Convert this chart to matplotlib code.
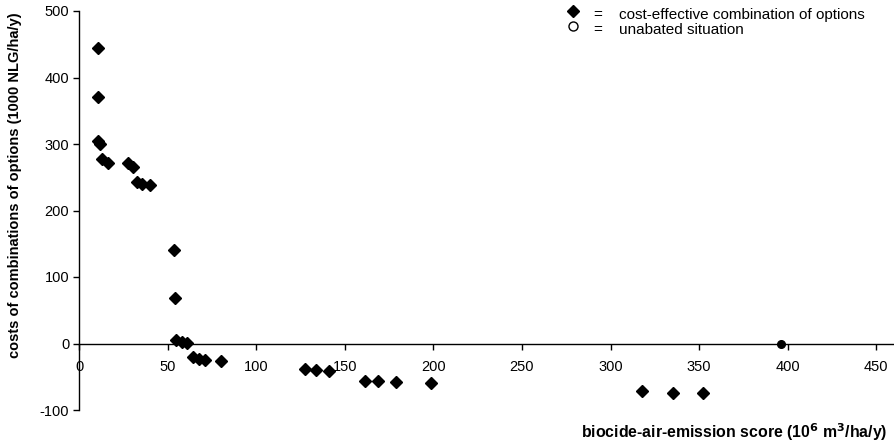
import numpy as np
import matplotlib
matplotlib.use("Agg")
import matplotlib.pyplot as plt
from matplotlib.lines import Line2D

plt.rcParams['font.family'] = ['Liberation Sans', 'DejaVu Sans']
plt.rcParams['axes.unicode_minus'] = False

# cost-effective combinations of options
emission_score = [10.7, 11.0, 10.5, 12.0, 13.0, 16.4, 27.7, 30.5, 32.7, 35.5, 40.0,
                  53.8, 54.0, 55.0, 58.0, 61.0, 64.5, 67.5, 71.0, 80.0,
                  127.5, 134.0, 141.0, 161.5, 169.0, 179.0, 198.6,
                  317.7, 335.0, 352.0]
costs = [444, 371, 305, 300, 277, 272, 271, 266, 243, 240, 239,
         140, 69, 6, 3, 1, -21, -24, -25, -26,
         -38, -40, -41, -56, -57, -58, -60,
         -72, -74, -75]

# unabated situation
unabated_score = [396.0]
unabated_cost = [0]

x_ticks = np.arange(0, 451, 50)
y_ticks = np.arange(-100, 501, 100)

legend_labels = ['cost-effective combination of options', 'unabated situation']

fig = plt.figure(figsize=(8.94, 4.42), dpi=100)
ax = fig.add_axes([79/894, 32/442, 815/894, 399/442])

ax.plot(emission_score, costs, 'D', color='black', markersize=6, linestyle='none')
ax.plot(unabated_score, unabated_cost, 'o', color='black', markersize=5.5, linestyle='none')

ax.set_xlim(0, 460)
ax.set_ylim(-100, 500)
ax.set_xticks(x_ticks)
ax.set_yticks(y_ticks)

ax.spines['right'].set_visible(False)
ax.spines['top'].set_visible(False)
ax.spines['bottom'].set_position(('data', 0))
for s in ['left', 'bottom']:
    ax.spines[s].set_linewidth(1.0)
ax.tick_params(axis='both', direction='out', length=4, width=1, labelsize=10.5, pad=3)
ax.tick_params(axis='x', pad=8)

fig.text(15/894, 1 - 185/442, 'costs of combinations of options (1000 NLG/ha/y)',
         rotation=90, ha='center', va='center', fontsize=10.5, fontweight='bold')
fig.text(887/894, 1 - 432/442, r'biocide-air-emission score (10$^\mathbf{6}$ m$^\mathbf{3}$/ha/y)',
         ha='right', va='center', fontsize=11.4, fontweight='bold')

# legend drawn by hand: symbol, "=", text
legend_markers = [dict(marker='D', markerfacecolor='black', markeredgecolor='black'),
                  dict(marker='o', markerfacecolor='white', markeredgecolor='black')]
for i, (lab, mk) in enumerate(zip(legend_labels, legend_markers)):
    y = 1 - (14 + i * 15) / 442
    fig.add_artist(Line2D([573/894], [y + 0.006], linestyle='none', markersize=6.5,
                          transform=fig.transFigure, **mk))
    fig.text(598/894, y - 0.002, '=', ha='center', va='center', fontsize=11)
    fig.text(619/894, y - 0.002, lab, ha='left', va='center', fontsize=11)

plt.savefig('out.png', dpi=100)
